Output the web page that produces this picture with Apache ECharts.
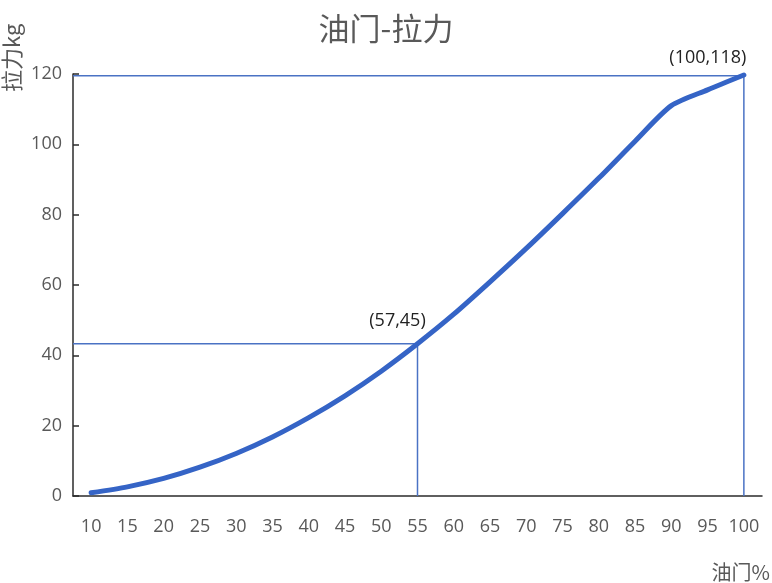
<!DOCTYPE html>
<html><head><meta charset="utf-8">
<script src="https://cdn.jsdelivr.net/npm/echarts@6/dist/echarts.min.js"></script>
<style>html,body{margin:0;padding:0;background:#fff}#c{width:772px;height:583px}</style>
</head><body><div id="c"></div>
<script>
const categories = ['10','15','20','25','30','35','40','45','50','55','60','65','70','75','80','85','90','95','100'];
const pull = [0.9, 2.6, 5.0, 8.2, 12.1, 16.8, 22.3, 28.5, 35.5, 43.3, 51.7, 60.9, 70.4, 80.3, 90.4, 100.9, 111, 115.5, 119.7];
const refHigh = [[7.5, 119.5], [100, 119.5], [100, 0]];
const refMid = [[7.5, 43.3], [55, 43.3], [55, 0]];
const labelHigh = '(100,118)';
const labelMid = '(57,45)';
const yTicks = {min: 0, max: 120, interval: 20};
const xRange = {min: 7.5, max: 102.5};

const grey = '#595959';
const numFont = 'Open Sans';
const cjk = 'Noto Sans CJK SC';
const chart = echarts.init(document.getElementById('c'));
chart.setOption({
  animation: false,
  title: {text: '油门-拉力', left: 'center', top: 8,
    textStyle: {fontFamily: cjk, fontSize: 31, fontWeight: 'normal', color: grey}},
  graphic: [{
    type: 'text', x: 1, y: 92, rotation: Math.PI / 2,
    style: {text: '拉力kg', font: '22px "Noto Sans CJK SC"', fill: grey, textAlign: 'left', textVerticalAlign: 'top'}
  }],
  grid: {left: 73, right: 10, top: 74, bottom: 87, outerBoundsMode: 'none', containLabel: false},
  xAxis: [{
    type: 'category', data: categories, boundaryGap: true,
    name: '油门%', nameLocation: 'end', nameGap: 0,
    nameTextStyle: {fontFamily: cjk, fontSize: 20, color: grey, align: 'right', verticalAlign: 'top', padding: [66, -8, 0, 0]},
    axisLine: {lineStyle: {color: '#2b2b2b', width: 1.5}},
    axisTick: {inside: true, length: 6, lineStyle: {color: '#2b2b2b', width: 1.5}},
    axisLabel: {interval: 0, fontFamily: numFont, fontSize: 18, color: grey, margin: 22},
    splitLine: {show: false}
  }, {
    type: 'value', min: xRange.min, max: xRange.max, show: false
  }],
  yAxis: {
    type: 'value', min: yTicks.min, max: yTicks.max, interval: yTicks.interval,
    axisLine: {show: true, lineStyle: {color: '#2b2b2b', width: 1.5}},
    axisTick: {show: true, inside: true, length: 6, lineStyle: {color: '#2b2b2b', width: 1.5}},
    axisLabel: {fontFamily: numFont, fontSize: 18, color: grey, margin: 11},
    splitLine: {show: false}
  },
  series: [{
    type: 'line', xAxisIndex: 1, data: refHigh, symbol: 'none', silent: true,
    lineStyle: {color: '#4a72c4', width: 1.5}, z: 1,
    markPoint: {symbol: 'circle', symbolSize: 0, data: [{coord: refHigh[1],
      label: {show: true, formatter: labelHigh, position: 'top', distance: 9, offset: [-36, 0], fontFamily: numFont, fontSize: 18, color: '#222'}}]}
  }, {
    type: 'line', xAxisIndex: 1, data: refMid, symbol: 'none', silent: true,
    lineStyle: {color: '#4a72c4', width: 1.5}, z: 1,
    markPoint: {symbol: 'circle', symbolSize: 0, data: [{coord: refMid[1],
      label: {show: true, formatter: labelMid, position: 'top', distance: 14, offset: [-20, 0], fontFamily: numFont, fontSize: 18, color: '#222'}}]}
  }, {
    type: 'line', data: pull, symbol: 'none', smooth: 0.25,
    lineStyle: {color: '#3564c6', width: 5, cap: 'round'}, z: 3
  }]
});
</script></body></html>
